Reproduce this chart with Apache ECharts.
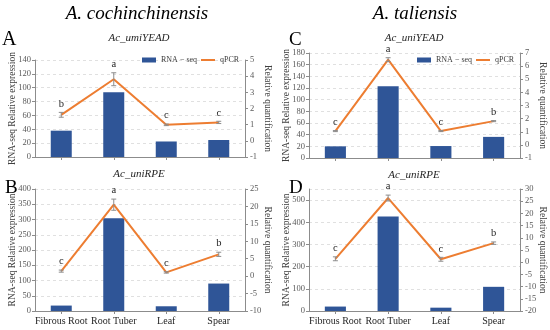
<!DOCTYPE html>
<html><head><meta charset="utf-8">
<script src="https://cdn.jsdelivr.net/npm/echarts@6/dist/echarts.min.js"></script>
<style>html,body{margin:0;padding:0;background:#fff}#c{width:550px;height:330px}</style>
</head><body><div id="c"></div>
<script>
const categories = ['Fibrous Root', 'Root Tuber', 'Leaf', 'Spear'];

// Panel A: A. cochinchinensis, Ac_umiYEAD
const rnaA = [38, 93.5, 22.4, 24.5];
const qpcrA = [1.61, 3.81, 0.99, 1.14];
const errA = [0.15, 0.4, 0.05, 0.07];
const letA = ['b', 'a', 'c', 'c'];
// Panel B: A. cochinchinensis, Ac_uniRPE
const rnaB = [17.8, 304, 15.5, 90];
const qpcrB = [1.44, 20.5, 1.07, 6.26];
const errB = [0.3, 1.6, 0.2, 0.6];
const letB = ['c', 'a', 'c', 'b'];
// Panel C: A. taliensis, Ac_uniYEAD
const rnaC = [20, 123, 20.5, 36.2];
const qpcrC = [1.05, 6.49, 1.05, 1.81];
const errC = [0.04, 0.15, 0.04, 0.04];
const letC = ['c', 'a', 'c', 'b'];
// Panel D: A. taliensis, Ac_uniRPE
const rnaD = [20, 426, 15, 109];
const qpcrD = [1.4, 26.3, 1.2, 7.8];
const errD = [0.8, 1.2, 0.8, 0.5];
const letD = ['c', 'a', 'c', 'b'];

const FONT = '"Liberation Serif", "Times New Roman", serif';
const BLUE = '#2F5597', ORANGE = '#ED7D31';

const panels = [
  {grid:{left:35,right:305,top:60,bottom:173}, l:[0,140,20], r:[-1,5,1], rna:rnaA, q:qpcrA, e:errA, let:letA, xl:false, legend:{left:142,left2:201,top:56}},
  {grid:{left:35,right:305,top:189,bottom:19}, l:[0,400,50], r:[-10,25,5], rna:rnaB, q:qpcrB, e:errB, let:letB, xl:true},
  {grid:{left:309,right:30,top:53,bottom:172}, l:[0,180,20], r:[-1,7,1], rna:rnaC, q:qpcrC, e:errC, let:letC, xl:false, legend:{left:417,left2:476,top:56}},
  {grid:{left:309,right:30,top:189,bottom:19}, l:[0,550,100], r:[-20,30,5], rna:rnaD, q:qpcrD, e:errD, let:letD, xl:true, hideMax:true}
];

const grids=[], xAxes=[], yAxes=[], series=[], legends=[];
panels.forEach((p,i)=>{
  grids.push(p.grid);
  xAxes.push({type:'category', gridIndex:i, data:categories,
    axisLine:{lineStyle:{color:'#8c8c8c',width:1}},
    axisTick:{show:true,alignWithLabel:true,length:3,lineStyle:{color:'#8c8c8c'}},
    axisLabel:{show:p.xl, interval:0, fontFamily:FONT, fontSize:10, color:'#262626', margin:5}});
  yAxes.push({type:'value', gridIndex:i, position:'left', min:p.l[0], max:p.l[1], interval:p.l[2],
    name:'RNA-seq Relative expression', nameLocation:'middle', nameGap:18, nameRotate:90, nameMoveOverlap:false,
    nameTextStyle:{fontFamily:FONT, fontSize:9.5, color:'#404040'},
    axisLine:{show:true,lineStyle:{color:'#8c8c8c'}},
    axisTick:{show:true,length:3,lineStyle:{color:'#8c8c8c'}},
    axisLabel:{fontFamily:FONT, fontSize:8.5, color:'#595959', margin:4, showMaxLabel: !p.hideMax},
    splitLine:{show:true,lineStyle:{color:'#d9d9d9',type:[3,3],width:0.8}}});
  yAxes.push({type:'value', gridIndex:i, position:'right', min:p.r[0], max:p.r[1], interval:p.r[2],
    name:'Relative quantification', nameLocation:'middle', nameGap:17, nameRotate:-90, nameMoveOverlap:false,
    nameTextStyle:{fontFamily:FONT, fontSize:9.5, color:'#404040'},
    axisLine:{show:true,lineStyle:{color:'#8c8c8c'}},
    axisTick:{show:true,length:3,lineStyle:{color:'#8c8c8c'}},
    axisLabel:{fontFamily:FONT, fontSize:8.5, color:'#595959', margin:5},
    splitLine:{show:false}});
  series.push({type:'bar', name:'RNA − seq', xAxisIndex:i, yAxisIndex:2*i, data:p.rna, barWidth:'40%',
    itemStyle:{color:BLUE}, silent:true});
  series.push({type:'line', name:'qPCR', xAxisIndex:i, yAxisIndex:2*i+1, data:p.q, symbol:'none',
    lineStyle:{color:ORANGE,width:2}, itemStyle:{color:ORANGE}, z:3, silent:true});
  const lets = p.let;
  series.push({type:'custom', xAxisIndex:i, yAxisIndex:2*i+1, z:4, silent:true,
    data:p.q.map((v,k)=>[k, v, p.e[k]]),
    renderItem:(params, api)=>{
      const k=api.value(0), v=api.value(1), e=api.value(2);
      const hi=api.coord([k, v+e]), lo=api.coord([k, v-e]);
      const x=hi[0], cw=2.5;
      return {type:'group', children:[
        {type:'line', shape:{x1:x,y1:hi[1],x2:x,y2:lo[1]}, style:{stroke:'#8c8c8c',lineWidth:1}},
        {type:'line', shape:{x1:x-cw,y1:hi[1],x2:x+cw,y2:hi[1]}, style:{stroke:'#8c8c8c',lineWidth:1}},
        {type:'line', shape:{x1:x-cw,y1:lo[1],x2:x+cw,y2:lo[1]}, style:{stroke:'#8c8c8c',lineWidth:1}},
        {type:'text', style:{text:lets[params.dataIndex], x:x, y:hi[1]-3, align:'center', verticalAlign:'bottom',
          fontFamily:FONT, fontSize:10.5, fill:'#262626'}}
      ]};
    }});
  if(p.legend){
    const ts = {fontFamily:FONT, fontSize:8, color:'#404040'};
    legends.push({left:p.legend.left, top:p.legend.top, padding:0, itemWidth:14, itemHeight:5,
      textStyle:ts, data:[{name:'RNA − seq', icon:'rect'}], selectedMode:false});
    legends.push({left:p.legend.left2, top:p.legend.top, padding:0, itemWidth:14, itemHeight:2,
      textStyle:ts, data:[{name:'qPCR', icon:'rect'}], selectedMode:false});
  }
});

const titleFont = (s)=>'italic '+s+'px '+FONT;
const graphic = [
  {type:'text', x:137, y:14, style:{text:'A. cochinchinensis', font:titleFont(19), align:'center', verticalAlign:'middle', fill:'#000'}},
  {type:'text', x:415, y:14, style:{text:'A. taliensis', font:titleFont(19), align:'center', verticalAlign:'middle', fill:'#000'}},
  {type:'text', x:139, y:38, style:{text:'Ac_umiYEAD', font:titleFont(11), align:'center', verticalAlign:'middle', fill:'#262626'}},
  {type:'text', x:414, y:38, style:{text:'Ac_uniYEAD', font:titleFont(11), align:'center', verticalAlign:'middle', fill:'#262626'}},
  {type:'text', x:139, y:174, style:{text:'Ac_uniRPE', font:titleFont(11), align:'center', verticalAlign:'middle', fill:'#262626'}},
  {type:'text', x:414, y:175, style:{text:'Ac_uniRPE', font:titleFont(11), align:'center', verticalAlign:'middle', fill:'#262626'}},
  {type:'text', x:2, y:40, style:{text:'A', font:'20px '+FONT, align:'left', verticalAlign:'middle', fill:'#000'}},
  {type:'text', x:5, y:188, style:{text:'B', font:'19px '+FONT, align:'left', verticalAlign:'middle', fill:'#000'}},
  {type:'text', x:289, y:40, style:{text:'C', font:'19px '+FONT, align:'left', verticalAlign:'middle', fill:'#000'}},
  {type:'text', x:289, y:188, style:{text:'D', font:'19px '+FONT, align:'left', verticalAlign:'middle', fill:'#000'}}
];

const chart = echarts.init(document.getElementById('c'), null, {renderer:'canvas'});
chart.setOption({animation:false, backgroundColor:'#fff', grid:grids, xAxis:xAxes, yAxis:yAxes,
  series:series, legend:legends, graphic:graphic});
</script></body></html>
